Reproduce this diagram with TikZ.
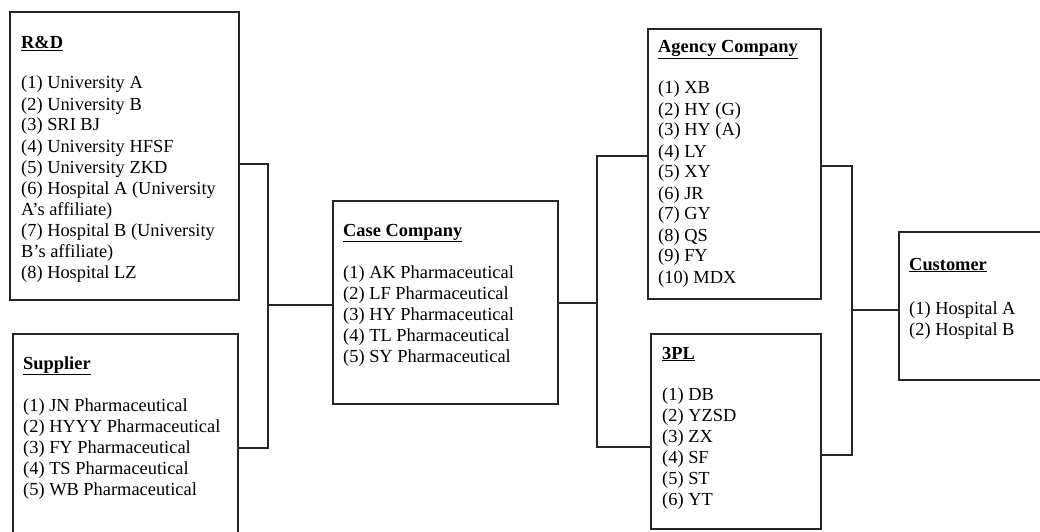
\documentclass[tikz,border=0pt]{standalone}
\usepackage{fontspec}
\setmainfont{Liberation Serif}
\usetikzlibrary{calc}

\tikzset{
  panel/.style={draw=black!85, line width=1.7pt, anchor=north west, inner sep=0pt},
  wire/.style={draw=black!85, line width=1.7pt},
  listtext/.style={anchor=base west, inner sep=0pt, font=\fontsize{18.4}{21}\selectfont},
}
\newcommand\heading[1]{\underline{\textbf{#1}}}
\newcommand\entries[1]{\parbox[t]{260pt}{\raggedright #1}}

\begin{document}
\begin{tikzpicture}[x=1pt, y=-1pt]
\useasboundingbox (0,0) rectangle (1040,532);
\clip (0,0) rectangle (1040,532);
\fill[white] (0,0) rectangle (1040,532);

% boxes
\node[panel, minimum width=229pt, minimum height=288pt] (rd)  at (9,11)   {};
\node[panel, minimum width=225pt, minimum height=217pt] (sup) at (12,333) {};
\node[panel, minimum width=225pt, minimum height=203pt] (cc)  at (332,200) {};
\node[panel, minimum width=173pt, minimum height=270pt] (ag)  at (647,28) {};
\node[panel, minimum width=170pt, minimum height=195pt] (tpl) at (650,333) {};
\node[panel, minimum width=160pt, minimum height=148pt] (cu)  at (898,231) {};

% box contents
\node[listtext] (rdh) at ($(rd.north west)+(12,38)$) {\heading{R\&D}};
\node[listtext] (rdl) at ($(rd.north west)+(12,78)$) {\entries{(1) University A\\
(2) University B\\
(3) SRI BJ\\
(4) University HFSF\\
(5) University ZKD\\
(6) Hospital A (University\\
A’s affiliate)\\
(7) Hospital B (University\\
B’s affiliate)\\
(8) Hospital LZ}};

\node[listtext] (suph) at ($(sup.north west)+(11,36)$) {\heading{Supplier}};
\node[listtext] (supl) at ($(sup.north west)+(11,78)$) {\entries{(1) JN Pharmaceutical\\
(2) HYYY Pharmaceutical\\
(3) FY Pharmaceutical\\
(4) TS Pharmaceutical\\
(5) WB Pharmaceutical}};

\node[listtext] (cch) at ($(cc.north west)+(11,36)$) {\heading{Case Company}};
\node[listtext] (ccl) at ($(cc.north west)+(11,78)$) {\entries{(1) AK Pharmaceutical\\
(2) LF Pharmaceutical\\
(3) HY Pharmaceutical\\
(4) TL Pharmaceutical\\
(5) SY Pharmaceutical}};

\node[listtext] (agh) at ($(ag.north west)+(11,25)$) {\heading{Agency Company}};
\node[listtext] (agl) at ($(ag.north west)+(11,66)$) {\entries{(1) XB\\
(2) HY (G)\\
(3) HY (A)\\
(4) LY\\
(5) XY\\
(6) JR\\
(7) GY\\
(8) QS\\
(9) FY\\
(10) MDX}};

\node[listtext] (tplh) at ($(tpl.north west)+(12,26)$) {\heading{3PL}};
\node[listtext] (tpll) at ($(tpl.north west)+(12,67)$) {\entries{(1) DB\\
(2) YZSD\\
(3) ZX\\
(4) SF\\
(5) ST\\
(6) YT}};

\node[listtext] (cuh) at ($(cu.north west)+(11,39)$) {\heading{Customer}};
\node[listtext] (cul) at ($(cu.north west)+(11,83)$) {\entries{(1) Hospital A\\
(2) Hospital B}};

% junction points of the connectors
\coordinate (jl) at (268,305);
\coordinate (jm) at (597,303);
\coordinate (jr) at (852,310);

% connectors
\draw[wire] ([yshift=-8pt]rd.east) -| (jl);
\draw[wire] ([yshift=-5.5pt]sup.east) -| (jl);
\draw[wire] (jl) -- (cc.west |- jl);
\draw[wire] (cc.east |- jm) -- (jm);
\draw[wire] (jm) |- ([yshift=8pt]ag.west);
\draw[wire] (jm) |- ([yshift=-15.5pt]tpl.west);
\draw[wire] ([yshift=-2pt]ag.east) -| (jr);
\draw[wire] ([yshift=-23.5pt]tpl.east) -| (jr);
\draw[wire] (jr) -- (cu.west |- jr);
\end{tikzpicture}
\end{document}
